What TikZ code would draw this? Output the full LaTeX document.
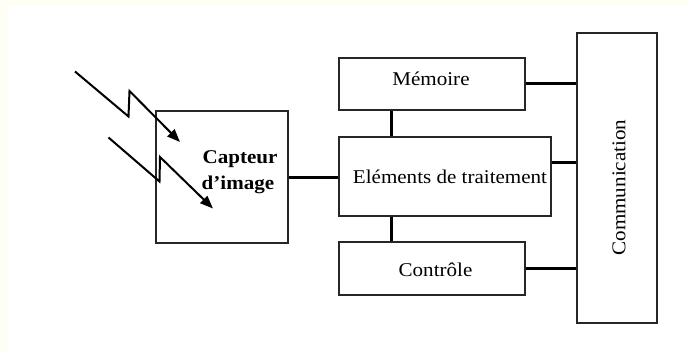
\documentclass[tikz,border=0pt]{standalone}
\usepackage{fontspec}
\setmainfont{Liberation Serif}[FakeStretch=1.08]
\usetikzlibrary{arrows.meta}
\begin{document}
\begin{tikzpicture}[x=1pt,y=-1pt,
  blk/.style={draw=black!85,line width=2pt,inner sep=0pt},
  conn/.style={draw=black,line width=3pt},
  bolt/.style={draw=black,line width=2pt,line join=miter,-{Triangle[length=13pt,width=10pt]}},
  lbl/.style={font=\fontsize{19.5}{23}\selectfont,inner sep=0pt,anchor=base}]
\useasboundingbox (0,0) rectangle (688,351);
\fill[white] (0,0) rectangle (688,351);
\fill[black!2!yellow!4] (0,0) rectangle (688,6);
\fill[black!2!yellow!4] (0,0) rectangle (8,351);
% boxes
\node[blk,minimum width=132pt,minimum height=132pt] (cap) at (221.5,176.5) {};
\node[blk,minimum width=186pt,minimum height=52pt] (mem) at (432,84) {};
\node[blk,minimum width=212pt,minimum height=79pt] (elem) at (445,176) {};
\node[blk,minimum width=186pt,minimum height=53pt] (ctl) at (432,268.5) {};
\node[blk,minimum width=80pt,minimum height=290pt] (com) at (616.5,177.5) {};
% texts
\node[lbl,font=\fontsize{19.5}{23}\selectfont\bfseries] (t1) at (240,163) {Capteur};
\node[lbl,font=\fontsize{19.5}{23}\selectfont\bfseries] (t2) at (238,189) {d’image};
\node[lbl] (t3) at (431,85) {Mémoire};
\node[lbl] (t4) at (450,183) {Eléments de traitement};
\node[lbl] (t5) at (435.5,276) {Contrôle};
\node[font=\fontsize{19.5}{23}\selectfont,inner sep=0pt,rotate=90] (t6) at (619,187.5) {Communication};
% connectors
\draw[conn] (cap.east |- 0,177) -- (elem.west |- 0,177);
\draw[conn] (mem.south -| 391.5,0) -- (elem.north -| 391.5,0);
\draw[conn] (elem.south -| 391.5,0) -- (ctl.north -| 391.5,0);
\draw[conn] (mem.east |- 0,83.5) -- (com.west |- 0,83.5);
\draw[conn] (elem.east |- 0,162.5) -- (com.west |- 0,162.5);
\draw[conn] (ctl.east |- 0,268.5) -- (com.west |- 0,268.5);
% lightning bolts
\coordinate (b1a) at (75,71.5);
\coordinate (b1b) at (128.5,116.5);
\coordinate (b1c) at (129.5,91);
\coordinate (b1d) at (180,142);
\coordinate (b2a) at (108.5,137.5);
\coordinate (b2b) at (159.5,181.5);
\coordinate (b2c) at (160,157);
\coordinate (b2d) at (213,208.5);
\draw[bolt] (b1a) -- (b1b) -- (b1c) -- (b1d);
\draw[bolt] (b2a) -- (b2b) -- (b2c) -- (b2d);
\end{tikzpicture}
\end{document}
